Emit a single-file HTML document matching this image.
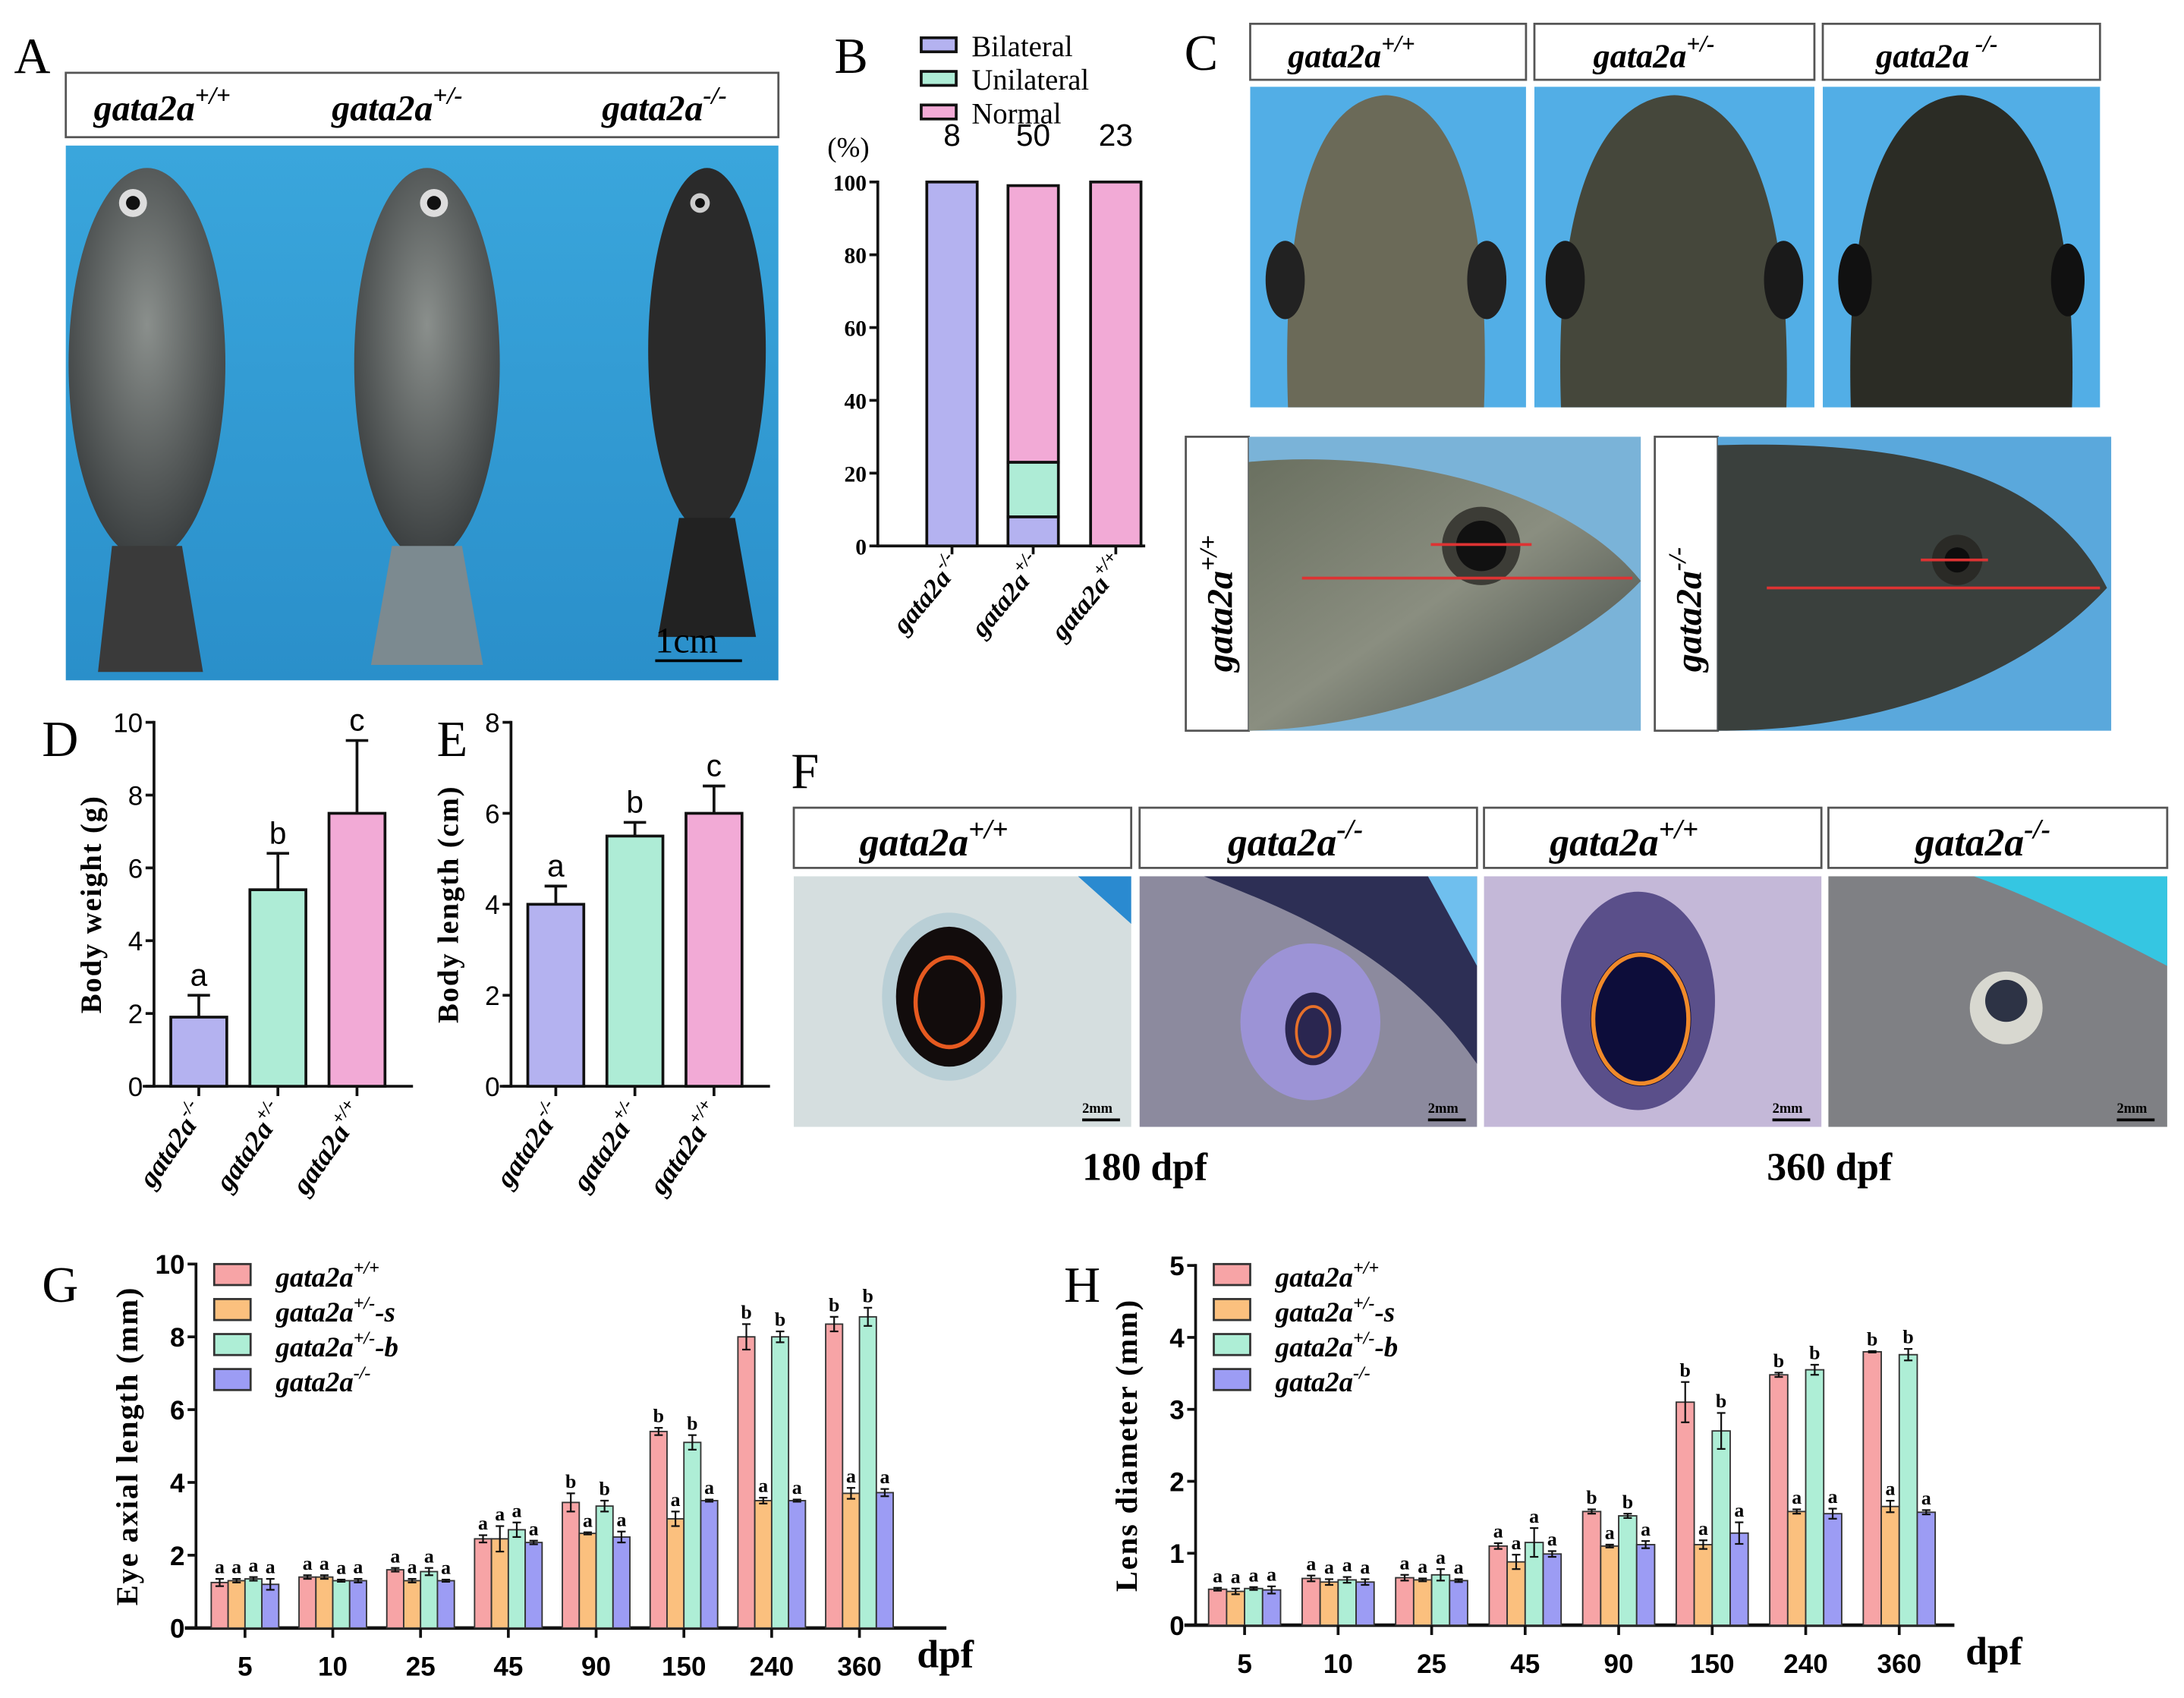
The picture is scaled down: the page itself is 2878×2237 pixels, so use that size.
<!DOCTYPE html>
<html><head><meta charset="utf-8">
<style>
html,body{margin:0;padding:0;background:#fff;}
svg{display:block;}
text{font-family:"Liberation Serif",serif;}
.g{font-style:italic;font-weight:bold;}
.sans{font-family:"Liberation Sans",sans-serif;}
</style></head>
<body>
<svg id="fig" width="2878" height="2237" viewBox="0 0 1560 1213" preserveAspectRatio="none" xmlns="http://www.w3.org/2000/svg">
<defs>
<linearGradient id="bluebg" x1="0" y1="0" x2="0" y2="1"><stop offset="0" stop-color="#3aa6dc"/><stop offset="1" stop-color="#2a8fca"/></linearGradient>
<radialGradient id="fishA" cx="0.5" cy="0.4" r="0.6"><stop offset="0" stop-color="#8a8f8c"/><stop offset="1" stop-color="#3b3f40"/></radialGradient>
<linearGradient id="sideC" x1="0" y1="0" x2="1" y2="1"><stop offset="0" stop-color="#6a7060"/><stop offset="0.5" stop-color="#8a8e80"/><stop offset="1" stop-color="#3c4340"/></linearGradient>
</defs>

<!-- Panel A -->
<text x="10" y="52" font-size="36">A</text>
<rect x="47" y="52" width="509" height="46" fill="#fff" stroke="#555" stroke-width="1.5"/>
<text x="67" y="86" font-size="26" class="g">gata2a<tspan dy="-12" font-size="18">+/+</tspan></text>
<text x="237" y="86" font-size="26" class="g">gata2a<tspan dy="-12" font-size="18">+/-</tspan></text>
<text x="430" y="86" font-size="26" class="g">gata2a<tspan dy="-12" font-size="18">-/-</tspan></text>
<g>
<rect x="47" y="104" width="509" height="382" fill="url(#bluebg)"/>
<ellipse cx="105" cy="260" rx="56" ry="140" fill="url(#fishA)"/>
<path d="M80 390 L130 390 L145 480 L70 480 Z" fill="#3a3a3a"/>
<ellipse cx="305" cy="260" rx="52" ry="140" fill="url(#fishA)"/>
<path d="M280 390 L330 390 L345 475 L265 475 Z" fill="#7c8a90"/>
<ellipse cx="505" cy="250" rx="42" ry="130" fill="#2a2a2a"/>
<path d="M485 370 L525 370 L540 455 L470 455 Z" fill="#222"/>
<circle cx="95" cy="145" r="10" fill="#ddd"/><circle cx="95" cy="145" r="5" fill="#111"/>
<circle cx="310" cy="145" r="10" fill="#ddd"/><circle cx="310" cy="145" r="5" fill="#111"/>
<circle cx="500" cy="145" r="7" fill="#ccc"/><circle cx="500" cy="145" r="3.5" fill="#111"/>
<text x="468" y="466" font-size="26">1cm</text>
<line x1="468" y1="472" x2="530" y2="472" stroke="#000" stroke-width="2"/>
</g>

<!-- Panel B -->
<g id="panelB"></g>

<!-- Panel C -->
<text x="846" y="50" font-size="36">C</text>
<g>
<rect x="893" y="17" width="197" height="40" fill="#fff" stroke="#555" stroke-width="1.5"/>
<rect x="1096" y="17" width="200" height="40" fill="#fff" stroke="#555" stroke-width="1.5"/>
<rect x="1302" y="17" width="198" height="40" fill="#fff" stroke="#555" stroke-width="1.5"/>
<text x="920" y="48" font-size="24" class="g">gata2a<tspan dy="-11" font-size="17">+/+</tspan></text>
<text x="1138" y="48" font-size="24" class="g">gata2a<tspan dy="-11" font-size="17">+/-</tspan></text>
<text x="1340" y="48" font-size="24" class="g">gata2a<tspan dy="-11" font-size="17"> -/-</tspan></text>
</g>
<g>
<rect x="893" y="62" width="197" height="229" fill="#52aee6"/>
<path d="M920 291 C915 150 940 70 990 68 C1040 70 1065 150 1060 291 Z" fill="#6b6a58"/>
<ellipse cx="918" cy="200" rx="14" ry="28" fill="#222"/><ellipse cx="1062" cy="200" rx="14" ry="28" fill="#222"/>
<rect x="1096" y="62" width="200" height="229" fill="#52aee6"/>
<path d="M1115 291 C1110 150 1140 70 1196 68 C1250 70 1280 150 1276 291 Z" fill="#45473b"/>
<ellipse cx="1118" cy="200" rx="14" ry="28" fill="#1a1a1a"/><ellipse cx="1274" cy="200" rx="14" ry="28" fill="#1a1a1a"/>
<rect x="1302" y="62" width="198" height="229" fill="#52aee6"/>
<path d="M1322 291 C1318 150 1345 70 1401 68 C1455 70 1484 150 1480 291 Z" fill="#2b2c25"/>
<ellipse cx="1325" cy="200" rx="12" ry="26" fill="#111"/><ellipse cx="1477" cy="200" rx="12" ry="26" fill="#111"/>
</g>
<g>
<rect x="847" y="312" width="45" height="210" fill="#fff" stroke="#555" stroke-width="1.5"/>
<text transform="translate(880,480) rotate(-90)" font-size="26" class="g">gata2a<tspan dy="-11" font-size="18">+/+</tspan></text>
<rect x="892" y="312" width="280" height="210" fill="#7ab3d8"/>
<path d="M892 330 C1000 320 1120 350 1172 415 C1120 470 1000 520 892 522 Z" fill="url(#sideC)"/>
<circle cx="1058" cy="390" r="28" fill="#3c3c36"/><circle cx="1058" cy="390" r="18" fill="#111"/>
<line x1="930" y1="413" x2="1166" y2="413" stroke="#d33" stroke-width="2"/>
<line x1="1022" y1="389" x2="1094" y2="389" stroke="#d33" stroke-width="2"/>
<rect x="1182" y="312" width="45" height="210" fill="#fff" stroke="#555" stroke-width="1.5"/>
<text transform="translate(1215,480) rotate(-90)" font-size="26" class="g">gata2a<tspan dy="-11" font-size="18">-/-</tspan></text>
<rect x="1227" y="312" width="281" height="210" fill="#5aa8dc"/>
<path d="M1227 318 C1350 315 1460 330 1505 420 C1450 480 1350 522 1227 522 Z" fill="#3a403d"/>
<circle cx="1398" cy="400" r="18" fill="#2a2a26"/><circle cx="1398" cy="400" r="9" fill="#0d0d0d"/>
<line x1="1262" y1="420" x2="1500" y2="420" stroke="#d33" stroke-width="2"/>
<line x1="1372" y1="400" x2="1420" y2="400" stroke="#d33" stroke-width="2"/>
</g>

<!-- Panel D, E -->
<g id="panelD"></g>
<g id="panelE"></g>

<!-- Panel F -->
<text x="565" y="563" font-size="36">F</text>
<g>
<rect x="567" y="577" width="241" height="43" fill="#fff" stroke="#555" stroke-width="1.5"/>
<rect x="814" y="577" width="241" height="43" fill="#fff" stroke="#555" stroke-width="1.5"/>
<rect x="1060" y="577" width="241" height="43" fill="#fff" stroke="#555" stroke-width="1.5"/>
<rect x="1306" y="577" width="242" height="43" fill="#fff" stroke="#555" stroke-width="1.5"/>
<text x="614" y="611" font-size="28" class="g">gata2a<tspan dy="-12" font-size="20">+/+</tspan></text>
<text x="877" y="611" font-size="28" class="g">gata2a<tspan dy="-12" font-size="20">-/-</tspan></text>
<text x="1107" y="611" font-size="28" class="g">gata2a<tspan dy="-12" font-size="20">+/+</tspan></text>
<text x="1368" y="611" font-size="28" class="g">gata2a<tspan dy="-12" font-size="20">-/-</tspan></text>
</g>
<g>
<rect x="567" y="626" width="241" height="179" fill="#d5dedf"/>
<path d="M770 626 L808 626 L808 660 Z" fill="#2a8ad0"/>
<ellipse cx="678" cy="712" rx="48" ry="60" fill="#b9cfd6"/>
<ellipse cx="678" cy="712" rx="38" ry="50" fill="#120c0c"/>
<ellipse cx="678" cy="716" rx="24" ry="32" fill="none" stroke="#e65a20" stroke-width="3"/>
<rect x="814" y="626" width="241" height="179" fill="#8c8a9e"/>
<path d="M860 626 L1055 626 L1055 760 C1000 680 920 650 860 626 Z" fill="#2d2f55"/>
<path d="M1020 626 L1055 626 L1055 690 Z" fill="#6fbfee"/>
<ellipse cx="936" cy="730" rx="50" ry="56" fill="#9c93d6"/>
<ellipse cx="938" cy="735" rx="20" ry="26" fill="#2a2650"/>
<ellipse cx="938" cy="737" rx="12" ry="18" fill="none" stroke="#e6702a" stroke-width="2"/>
<rect x="1060" y="626" width="241" height="179" fill="#c4b8d8"/>
<ellipse cx="1170" cy="715" rx="55" ry="78" fill="#5a4f8a"/>
<ellipse cx="1172" cy="728" rx="36" ry="48" fill="#0d0d3a"/>
<ellipse cx="1172" cy="728" rx="34" ry="46" fill="none" stroke="#f08a2a" stroke-width="3"/>
<rect x="1306" y="626" width="242" height="179" fill="#7f8084"/>
<path d="M1410 626 L1548 626 L1548 690 C1500 665 1450 640 1410 626 Z" fill="#35c6e2"/>
<circle cx="1433" cy="720" r="26" fill="#d8d8d0"/>
<circle cx="1433" cy="715" r="15" fill="#2d3345"/>
<g font-size="10" font-weight="bold">
<text x="773" y="795">2mm</text><line x1="773" y1="800" x2="800" y2="800" stroke="#000" stroke-width="2"/>
<text x="1020" y="795">2mm</text><line x1="1020" y1="800" x2="1047" y2="800" stroke="#000" stroke-width="2"/>
<text x="1266" y="795">2mm</text><line x1="1266" y1="800" x2="1293" y2="800" stroke="#000" stroke-width="2"/>
<text x="1512" y="795">2mm</text><line x1="1512" y1="800" x2="1539" y2="800" stroke="#000" stroke-width="2"/>
</g>
</g>
<text x="773" y="843" font-size="28" font-weight="bold">180 dpf</text>
<text x="1262" y="843" font-size="28" font-weight="bold">360 dpf</text>

<!-- Panel G, H -->
<g id="panelG"></g>
<g id="panelH"></g>
</svg>

<script>
// ---------- Panel B data ----------
const bGroups = ['-/-', '+/-', '+/+'];
const bCounts = ['8', '50', '23'];
const bBilateral = [100, 8, 0];
const bUnilateral = [0, 15, 0];
const bNormal = [0, 76, 100];
const bTicks = [0, 20, 40, 60, 80, 100];

// ---------- Panel D/E data ----------
const deGroups = ['-/-', '+/-', '+/+'];
const dValues = [1.9, 5.4, 7.5];
const dErrors = [0.6, 1.0, 2.0];
const dLetters = ['a', 'b', 'c'];
const dTicks = [0, 2, 4, 6, 8, 10];
const eValues = [4.0, 5.5, 6.0];
const eErrors = [0.4, 0.3, 0.6];
const eLetters = ['a', 'b', 'c'];
const eTicks = [0, 2, 4, 6, 8];

// ---------- Panel G/H data ----------
const days = ['5', '10', '25', '45', '90', '150', '240', '360'];
const seriesNames = ['+/+', '+/-', '+/-', '-/-'];
const seriesSuffix = ['', '-s', '-b', ''];
const gWT = [1.25, 1.4, 1.6, 2.45, 3.45, 5.4, 8.0, 8.35];
const gHS = [1.3, 1.4, 1.3, 2.45, 2.6, 3.0, 3.5, 3.7];
const gHB = [1.35, 1.3, 1.55, 2.7, 3.35, 5.1, 8.0, 8.55];
const gKO = [1.2, 1.3, 1.3, 2.35, 2.5, 3.5, 3.5, 3.72];
const gWTe = [0.1, 0.05, 0.05, 0.1, 0.25, 0.1, 0.35, 0.2];
const gHSe = [0.05, 0.05, 0.05, 0.35, 0.03, 0.2, 0.08, 0.15];
const gHBe = [0.05, 0.03, 0.1, 0.2, 0.15, 0.2, 0.15, 0.25];
const gKOe = [0.15, 0.05, 0.03, 0.05, 0.15, 0.03, 0.03, 0.1];
const gTicks = [0, 2, 4, 6, 8, 10];
const hWT = [0.5, 0.65, 0.66, 1.1, 1.58, 3.1, 3.48, 3.8];
const hHS = [0.47, 0.6, 0.63, 0.88, 1.1, 1.12, 1.58, 1.65];
const hHB = [0.51, 0.63, 0.7, 1.15, 1.52, 2.7, 3.55, 3.76];
const hKO = [0.49, 0.6, 0.62, 0.99, 1.12, 1.28, 1.55, 1.57];
const hWTe = [0.02, 0.04, 0.04, 0.04, 0.03, 0.28, 0.03, 0.01];
const hHSe = [0.04, 0.04, 0.02, 0.1, 0.02, 0.06, 0.03, 0.08];
const hHBe = [0.02, 0.04, 0.08, 0.2, 0.03, 0.25, 0.07, 0.08];
const hKOe = [0.05, 0.04, 0.02, 0.04, 0.05, 0.15, 0.07, 0.03];
const hTicks = [0, 1, 2, 3, 4, 5];
const sigWT = ['a','a','a','a','b','b','b','b'];
const sigHS = ['a','a','a','a','a','a','a','a'];
const sigHB = ['a','a','a','a','b','b','b','b'];
const sigKO = ['a','a','a','a','a','a','a','a'];

const NS = 'http://www.w3.org/2000/svg';
function mk(parent, tag, attrs, txt) {
  const e = document.createElementNS(NS, tag);
  for (const k in attrs) e.setAttribute(k, attrs[k]);
  if (txt !== undefined) e.textContent = txt;
  parent.appendChild(e);
  return e;
}
const PURPLE = '#b4b2f0', MINT = '#aeecd6', PINK = '#f2aad6';

// ---------- Panel B ----------
(function () {
  const g = document.getElementById('panelB');
  const x0 = 627, y0 = 390, y100 = 130;
  const ys = v => y0 - (v / 100) * (y0 - y100);
  let t = mk(g, 'text', { x: 596, y: 52, 'font-size': 36 }, 'B');
  
  
  const leg = [['Bilateral', PURPLE], ['Unilateral', MINT], ['Normal', PINK]];
  leg.forEach((l, i) => {
    const lg = mk(g, 'g', {});
    
    
    mk(lg, 'rect', { x: 658, y: 27 + i * 24, width: 25, height: 10, fill: l[1], stroke: '#111', 'stroke-width': 2 });
    mk(lg, 'text', { x: 694, y: 40 + i * 24, 'font-size': 21 }, l[0]);
  });
  mk(g, 'text', { x: 591, y: 112, 'font-size': 20 }, '(%)');
  mk(g, 'line', { x1: x0, y1: y100 - 1, x2: x0, y2: y0 + 1, stroke: '#111', 'stroke-width': 2 });
  mk(g, 'line', { x1: x0, y1: y0, x2: 818, y2: y0, stroke: '#111', 'stroke-width': 2 });
  bTicks.forEach(v => {
    mk(g, 'line', { x1: x0 - 6, y1: ys(v), x2: x0, y2: ys(v), stroke: '#111', 'stroke-width': 2 });
    mk(g, 'text', { x: x0 - 8, y: ys(v) + 6, 'font-size': 16, 'font-weight': 'bold', 'text-anchor': 'end' }, v);
  });
  const centers = [680, 738, 797];
  bGroups.forEach((lab, i) => {
    const cx = centers[i], w = 36;
    let acc = 0;
    [[bBilateral, PURPLE, 'bilateral'], [bUnilateral, MINT, 'unilateral'], [bNormal, PINK, 'normal']].forEach(s => {
      const v = s[0][i];
      if (v > 0) {
        const r = mk(g, 'rect', { x: cx - w / 2, y: ys(acc + v), width: w, height: ys(acc) - ys(acc + v), fill: s[1], stroke: '#111', 'stroke-width': 2 });
        
        
      }
      acc += v;
    });
    mk(g, 'line', { x1: cx, y1: y0, x2: cx, y2: y0 + 6, stroke: '#111', 'stroke-width': 2 });
    const c = mk(g, 'text', { x: cx, y: 104, 'font-size': 22, 'text-anchor': 'middle', class: 'sans' }, bCounts[i]);
    
    
    const xl = mk(g, 'text', { transform: `translate(${cx + 8},${y0 + 14}) rotate(-50)`, 'font-size': 19, class: 'g', 'text-anchor': 'end' });
    
    
    xl.innerHTML = 'gata2a<tspan dy="-9" font-size="13">' + lab + '</tspan>';
  });
})();

// ---------- Panels D/E ----------
function barPanel(id, label, lx, x0, yTop, vmax, ticks, vals, errs, letters, ytitle) {
  const g = document.getElementById(id);
  const y0 = 776;
  const ys = v => y0 - (v / vmax) * (y0 - yTop);
  let t = mk(g, 'text', { x: lx, y: 540, 'font-size': 36 }, label);
  
  
  mk(g, 'line', { x1: x0, y1: yTop - 1, x2: x0, y2: y0 + 1, stroke: '#111', 'stroke-width': 2 });
  mk(g, 'line', { x1: x0 - 8, y1: y0, x2: x0 + 185, y2: y0, stroke: '#111', 'stroke-width': 2 });
  ticks.forEach(v => {
    mk(g, 'line', { x1: x0 - 6, y1: ys(v), x2: x0, y2: ys(v), stroke: '#111', 'stroke-width': 2 });
    mk(g, 'text', { x: x0 - 8, y: ys(v) + 7, 'font-size': 19, 'text-anchor': 'end', class: 'sans' }, v);
  });
  const yt = mk(g, 'text', { transform: `translate(${x0 - 38},${(yTop + y0) / 2}) rotate(-90)`, 'font-size': 21, 'font-weight': 'bold', 'text-anchor': 'middle', 'letter-spacing': 1 }, ytitle);
  
  
  const cols = [PURPLE, MINT, PINK];
  vals.forEach((v, i) => {
    const cx = x0 + 32 + i * 56.5, w = 40;
    const r = mk(g, 'rect', { x: cx - w / 2, y: ys(v), width: w, height: y0 - ys(v), fill: cols[i], stroke: '#111', 'stroke-width': 2 });
    
    
    const ye = ys(v + errs[i]);
    mk(g, 'line', { x1: cx, y1: ys(v), x2: cx, y2: ye, stroke: '#111', 'stroke-width': 2 });
    mk(g, 'line', { x1: cx - 8, y1: ye, x2: cx + 8, y2: ye, stroke: '#111', 'stroke-width': 2 });
    mk(g, 'text', { x: cx, y: ye - 7, 'font-size': 22, 'text-anchor': 'middle', class: 'sans' }, letters[i]);
    mk(g, 'line', { x1: cx, y1: y0, x2: cx, y2: y0 + 7, stroke: '#111', 'stroke-width': 2 });
    const xl = mk(g, 'text', { transform: `translate(${cx + 6},${y0 + 18}) rotate(-55)`, 'font-size': 20, class: 'g', 'text-anchor': 'end' });
    
    
    xl.innerHTML = 'gata2a<tspan dy="-9" font-size="13">' + deGroups[i] + '</tspan>';
  });
}
barPanel('panelD', 'D', 30, 110, 516, 10, dTicks, dValues, dErrors, dLetters, 'Body weight (g)');
barPanel('panelE', 'E', 312, 365, 516, 8, eTicks, eValues, eErrors, eLetters, 'Body length (cm)');

// ---------- Panels G/H ----------
function groupPanel(id, label, lx, x0, xEnd, firstC, step, yTop, y0, vmax, ticks, series, errs, sigs, ytitle, dpfX) {
  const g = document.getElementById(id);
  const ys = v => y0 - (v / vmax) * (y0 - yTop);
  const cols = ['#f7a4a6', '#fbc07e', '#aeeed6', '#9c9cf4'];
  let t = mk(g, 'text', { x: lx, y: 930, 'font-size': 36 }, label);
  
  
  mk(g, 'line', { x1: x0, y1: yTop - 1, x2: x0, y2: y0 + 1, stroke: '#111', 'stroke-width': 2 });
  mk(g, 'line', { x1: x0 - 8, y1: y0, x2: xEnd, y2: y0, stroke: '#111', 'stroke-width': 2.5 });
  ticks.forEach(v => {
    mk(g, 'line', { x1: x0 - 6, y1: ys(v), x2: x0, y2: ys(v), stroke: '#111', 'stroke-width': 2 });
    mk(g, 'text', { x: x0 - 8, y: ys(v) + 7, 'font-size': 19, 'font-weight': 'bold', 'text-anchor': 'end', class: 'sans' }, v);
  });
  const yt = mk(g, 'text', { transform: `translate(${x0 - 42},${(yTop + y0) / 2}) rotate(-90)`, 'font-size': 22, 'font-weight': 'bold', 'text-anchor': 'middle', 'letter-spacing': 1 }, ytitle);
  
  
  const bw = step / 5.2;
  days.forEach((d, i) => {
    const cx = firstC + i * step;
    series.forEach((s, k) => {
      const bx = cx - 2 * bw + k * bw;
      const v = s[i];
      const r = mk(g, 'rect', { x: bx, y: ys(v), width: bw, height: y0 - ys(v), fill: cols[k], stroke: '#333', 'stroke-width': 1 });
      
      
      const e = errs[k][i], mx = bx + bw / 2;
      mk(g, 'line', { x1: mx, y1: ys(v - e), x2: mx, y2: ys(v + e), stroke: '#111', 'stroke-width': 1.2 });
      mk(g, 'line', { x1: mx - 3, y1: ys(v + e), x2: mx + 3, y2: ys(v + e), stroke: '#111', 'stroke-width': 1.2 });
      mk(g, 'line', { x1: mx - 3, y1: ys(v - e), x2: mx + 3, y2: ys(v - e), stroke: '#111', 'stroke-width': 1.2 });
      mk(g, 'text', { x: mx, y: ys(v + e) - 4, 'font-size': 14, 'font-weight': 'bold', 'text-anchor': 'middle' }, sigs[k][i]);
    });
    mk(g, 'line', { x1: cx, y1: y0, x2: cx, y2: y0 + 7, stroke: '#111', 'stroke-width': 2 });
    const xl = mk(g, 'text', { x: cx, y: y0 + 34, 'font-size': 19, 'font-weight': 'bold', 'text-anchor': 'middle', class: 'sans' }, d);
    
    
  });
  mk(g, 'text', { x: dpfX, y: y0 + 28, 'font-size': 28, 'font-weight': 'bold' }, 'dpf');
  seriesNames.forEach((n, k) => {
    const lg = mk(g, 'g', {});
    
    
    const ly = 903 + k * 25;
    mk(lg, 'rect', { x: x0 + 13, y: ly, width: 26, height: 15, fill: cols[k], stroke: '#333', 'stroke-width': 1.5 });
    const tx = mk(lg, 'text', { x: x0 + 57, y: ly + 16, 'font-size': 20, class: 'g' });
    tx.innerHTML = 'gata2a<tspan dy="-9" font-size="13">' + n + '</tspan><tspan dy="9">' + seriesSuffix[k] + '</tspan>';
  });
}
groupPanel('panelG', 'G', 30, 140, 676, 175, 62.7, 903, 1163, 10, gTicks,
  [gWT, gHS, gHB, gKO], [gWTe, gHSe, gHBe, gKOe], [sigWT, sigHS, sigHB, sigKO], 'Eye axial length (mm)', 655);
groupPanel('panelH', 'H', 760, 854, 1396, 889, 66.8, 904, 1161, 5, hTicks,
  [hWT, hHS, hHB, hKO], [hWTe, hHSe, hHBe, hKOe], [sigWT, sigHS, sigHB, sigKO], 'Lens diameter (mm)', 1404);
</script>
</body></html>
